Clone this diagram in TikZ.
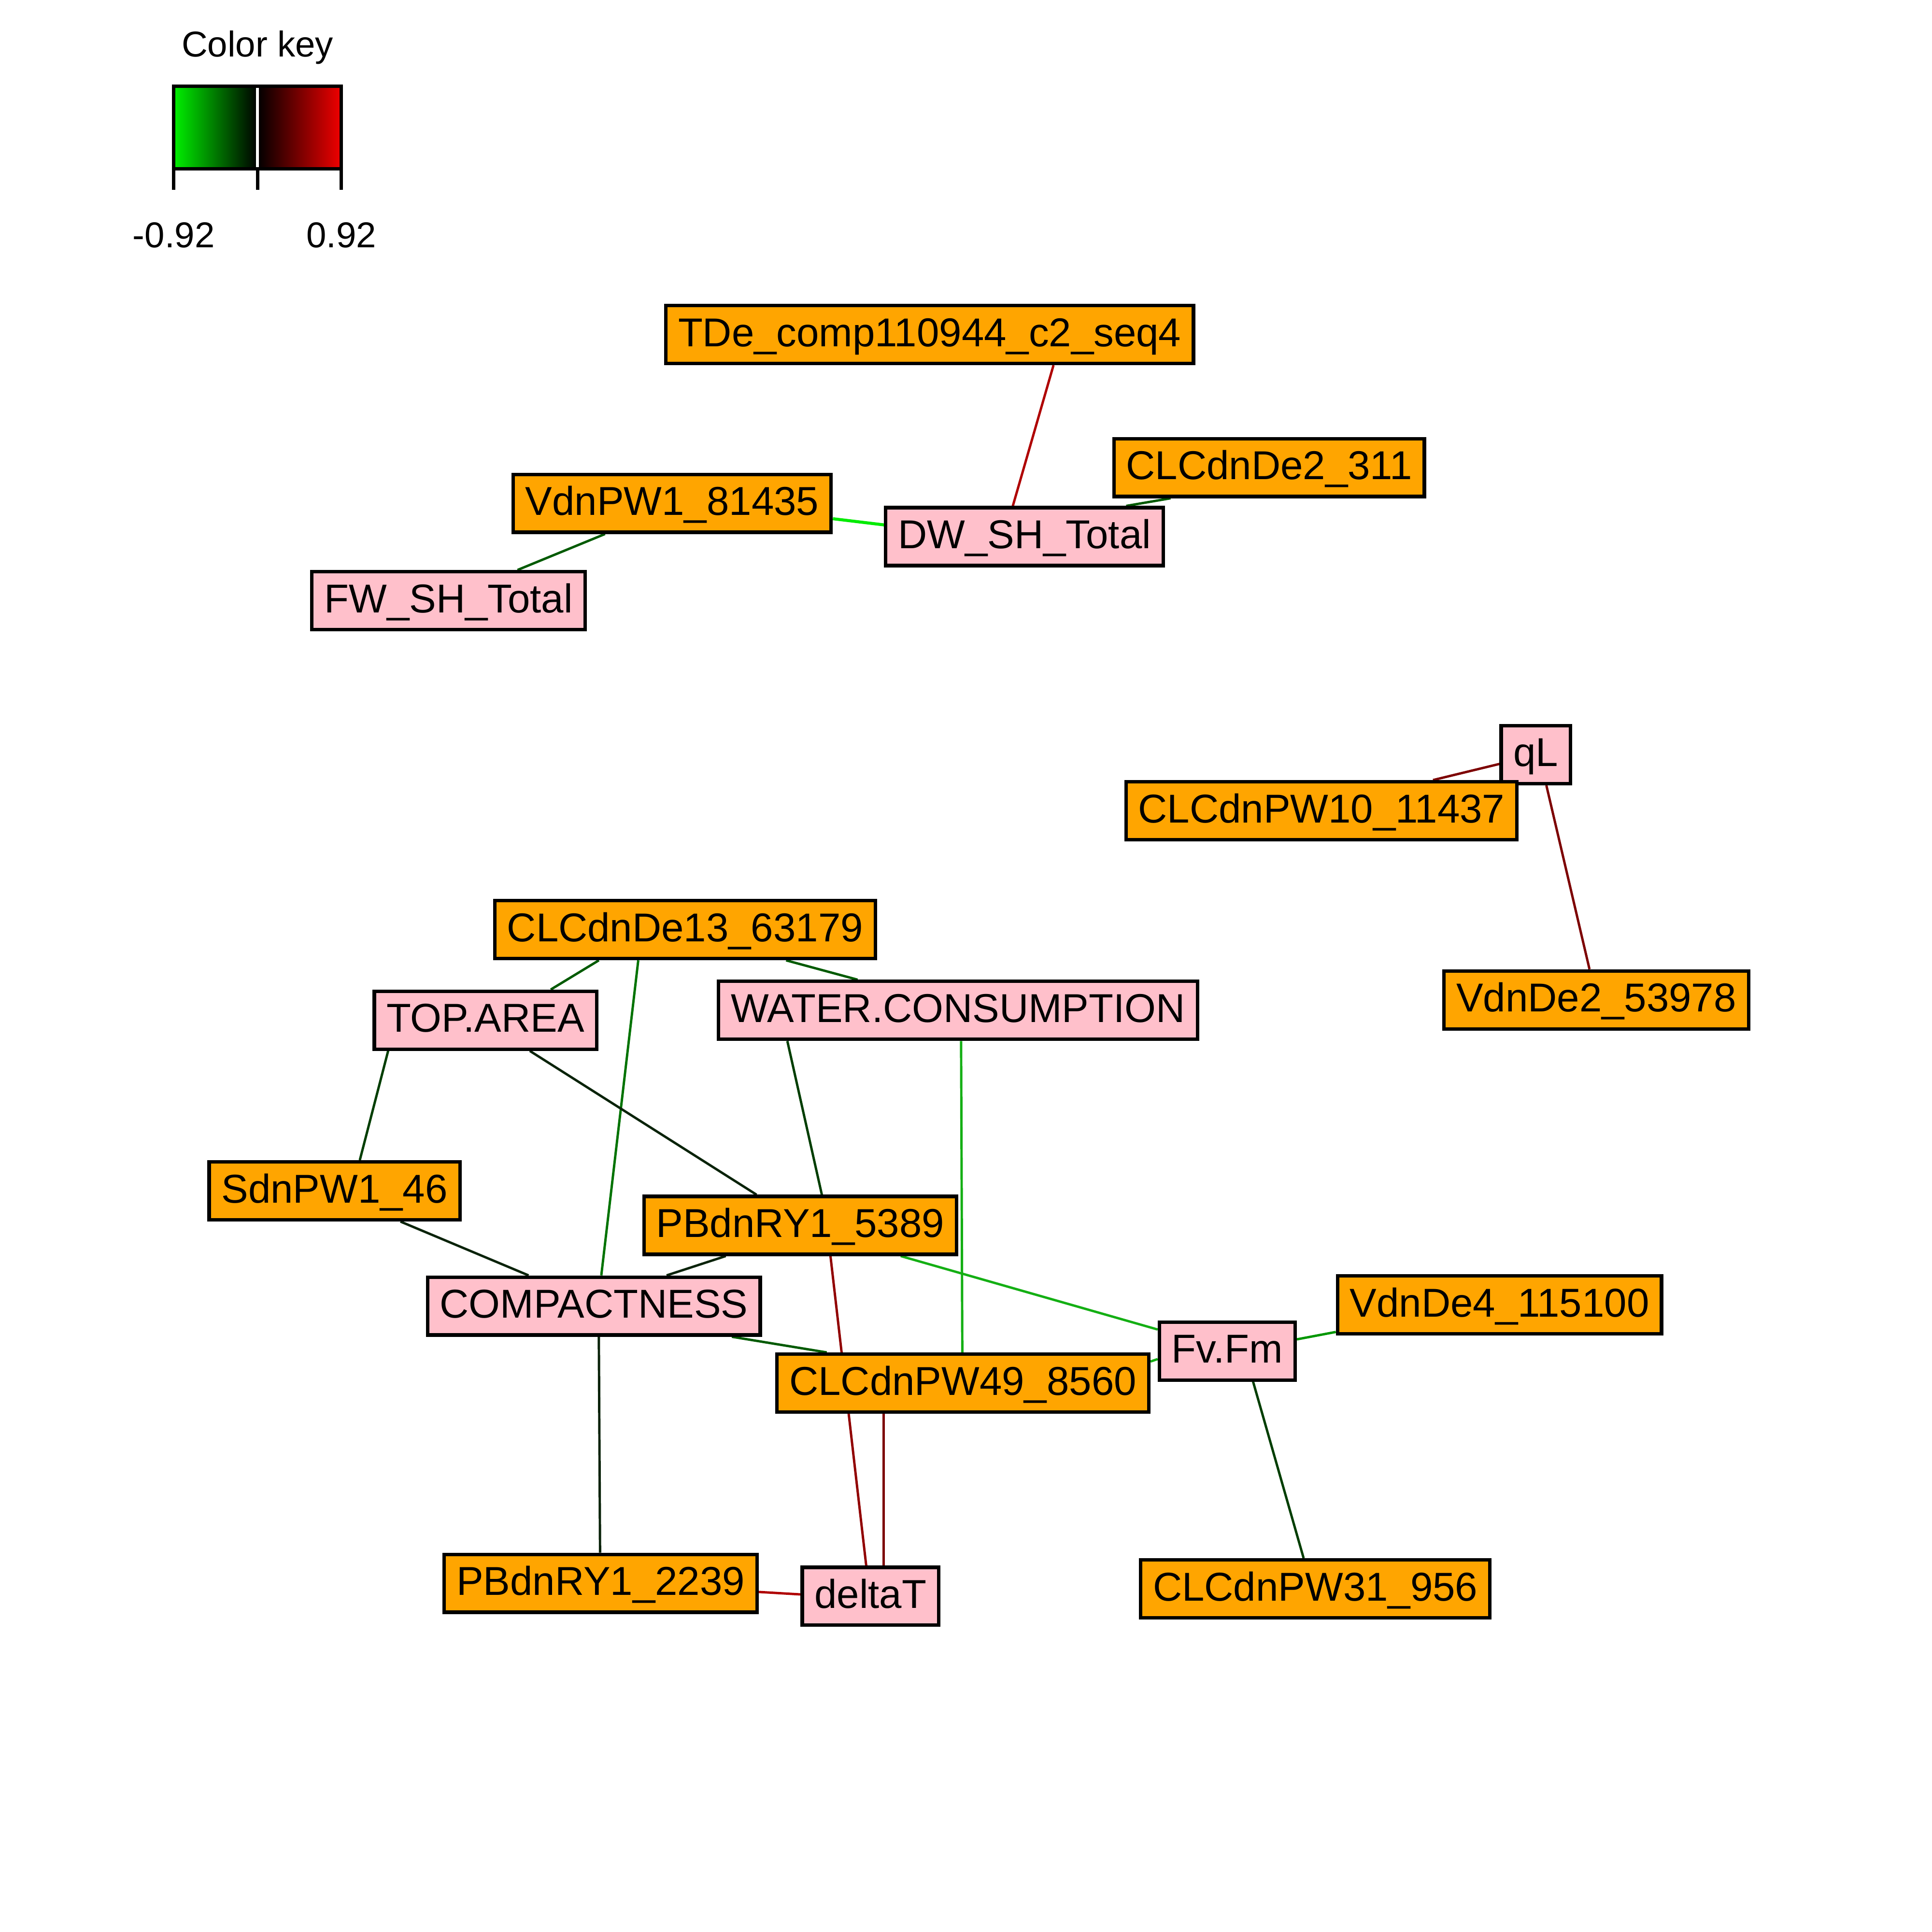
\documentclass[tikz,border=0pt]{standalone}
\usepackage{fontspec}
\setmainfont{Liberation Sans}
\usepackage{xcolor}
\usepackage{tikz}
\usetikzlibrary{backgrounds}
\definecolor{gnfill}{RGB}{255,165,0}
\definecolor{trfill}{RGB}{255,192,203}
\definecolor{keygreen}{RGB}{0,240,0}
\definecolor{keyred}{RGB}{240,0,0}
\definecolor{cneg1}{RGB}{0,235,0}
\definecolor{cneg2}{RGB}{20,175,20}
\definecolor{cneg3}{RGB}{0,150,0}
\definecolor{cneg4}{RGB}{0,115,0}
\definecolor{cneg5}{RGB}{0,90,0}
\definecolor{cneg6}{RGB}{0,62,0}
\definecolor{cneg7}{RGB}{10,35,10}
\definecolor{cpos1}{RGB}{175,0,0}
\definecolor{cpos2}{RGB}{145,0,0}
\definecolor{cpos3}{RGB}{125,0,0}
\tikzset{
  gn/.style    ={draw=black, line width=0.8pt, fill=gnfill, font=\fontsize{9.3}{11}\selectfont,
                 inner xsep=0.1cm, inner ysep=0pt, minimum height=0.47cm,
                 text height=0.30cm, text depth=0.108cm},
  tr/.style    ={gn, fill=trfill},
  lk/.style    ={line width=0.55pt},
  keyln/.style ={draw=black, line width=0.75pt},
  keylab/.style={font=\fontsize{8.3}{10}\selectfont, inner sep=0pt, anchor=base},
}

\begin{document}
\begin{tikzpicture}
  \useasboundingbox (0,0) rectangle (15.68,-15.68);
  % colour key
  \shade[left color=keygreen, right color=black] (1.41,-0.70) rectangle (2.09,-1.37);
  \shade[left color=black, right color=keyred] (2.09,-0.70) rectangle (2.77,-1.37);
  \draw[white, line width=0.7pt] (2.09,-0.70) -- (2.09,-1.37);
  \draw[keyln] (1.41,-0.70) rectangle (2.77,-1.37);
  \draw[keyln] (1.41,-1.37) -- (1.41,-1.54);
  \draw[keyln] (2.09,-1.37) -- (2.09,-1.54);
  \draw[keyln] (2.77,-1.37) -- (2.77,-1.54);
  \node[keylab] (keytitle) at (2.09,-0.46) {Color key};
  \node[keylab] (keylo) at (1.41,-2.01) {-0.92};
  \node[keylab] (keyhi) at (2.77,-2.01) {0.92};
  % upper cluster
  \node[gn] (tde)  at (7.545,-2.715) {TDe\_comp110944\_c2\_seq4};
  \node[gn] (cde2) at (10.30,-3.795) {CLCdnDe2\_311};
  \node[gn] (vpw1) at (5.455,-4.085) {VdnPW1\_81435};
  \node[tr] (dw)   at (8.315,-4.355) {DW\_SH\_Total};
  \node[tr] (fw)   at (3.64,-4.875) {FW\_SH\_Total};
  % qL cluster
  \node[tr] (ql)    at (12.465,-6.125) {qL};
  \node[gn] (cpw10) at (10.725,-6.58) {CLCdnPW10\_11437};
  \node[gn] (vde2)  at (12.955,-8.115) {VdnDe2\_53978};
  % lower cluster
  \node[gn] (cde13)  at (5.56,-7.545) {CLCdnDe13\_63179};
  \node[tr] (top)    at (3.94,-8.28) {TOP.AREA};
  \node[tr] (water)  at (7.775,-8.20) {WATER.CONSUMPTION};
  \node[gn] (sdn)    at (2.715,-9.665) {SdnPW1\_46};
  \node[gn] (pb5389) at (6.495,-9.945) {PBdnRY1\_5389};
  \node[tr] (comp)   at (4.82,-10.60) {COMPACTNESS};
  \node[gn] (vde4)   at (12.17,-10.59) {VdnDe4\_115100};
  \node[tr] (fvfm)   at (9.96,-10.965) {Fv.Fm};
  \node[gn] (cpw49)  at (7.815,-11.225) {CLCdnPW49\_8560};
  \node[gn] (pb2239) at (4.875,-12.85) {PBdnRY1\_2239};
  \node[tr] (dt)     at (7.065,-12.955) {deltaT};
  \node[gn] (cpw31)  at (10.675,-12.895) {CLCdnPW31\_956};
  % correlations
  \begin{scope}[on background layer]
  \draw[lk,draw=cpos1] ([xshift=1.005cm]tde.south) -- ([xshift=-0.095cm]dw.north);
  \draw[lk,draw=cneg5] ([xshift=-0.80cm]cde2.south) -- ([xshift=0.825cm]dw.north);
  \draw[lk,draw=cneg1,line width=0.7pt] ([yshift=-0.125cm]vpw1.east) -- ([yshift=0.095cm]dw.west);
  \draw[lk,draw=cneg5] ([xshift=-0.545cm]vpw1.south) -- ([xshift=0.56cm]fw.north);
  \draw[lk,draw=cpos3] ([yshift=-0.075cm]ql.west) -- ([xshift=0.905cm]cpw10.north);
  \draw[lk,draw=cpos3] ([xshift=0.085cm]ql.south) -- ([xshift=-0.055cm]vde2.north);
  \draw[lk,draw=cneg5] ([xshift=-0.70cm]cde13.south) -- ([xshift=0.53cm]top.north);
  \draw[lk,draw=cneg5] ([xshift=0.82cm]cde13.south) -- ([xshift=-0.815cm]water.north);
  \draw[lk,draw=cneg4] ([xshift=-0.38cm]cde13.south) -- ([xshift=0.06cm]comp.north);
  \draw[lk,draw=cneg6] ([xshift=-0.79cm]top.south) -- ([xshift=0.205cm]sdn.north);
  \draw[lk,draw=cneg7] ([xshift=0.36cm]top.south) -- ([xshift=-0.355cm]pb5389.north);
  \draw[lk,draw=cneg6] ([xshift=-1.385cm]water.south) -- ([xshift=0.175cm]pb5389.north);
  \draw[lk,draw=cneg2] ([xshift=0.025cm]water.south) -- ([xshift=-0.005cm]cpw49.north);
  \draw[lk,draw=cneg7] ([xshift=0.535cm]sdn.south) -- ([xshift=-0.53cm]comp.north);
  \draw[lk,draw=cneg7] ([xshift=-0.605cm]pb5389.south) -- ([xshift=0.59cm]comp.north);
  \draw[lk,draw=cneg2] ([xshift=0.815cm]pb5389.south) -- ([yshift=0.175cm]fvfm.west);
  \draw[lk,draw=cpos2] ([xshift=0.245cm]pb5389.south) -- ([xshift=-0.035cm]dt.north);
  \draw[lk,draw=cneg5] ([xshift=1.12cm]comp.south) -- ([xshift=-1.105cm]cpw49.north);
  \draw[lk,draw=cneg7] ([xshift=0.04cm]comp.south) -- ([xshift=-0.005cm]pb2239.north);
  \draw[lk,draw=cneg2] ([yshift=0.175cm]cpw49.east) -- ([yshift=-0.065cm]fvfm.west);
  \draw[lk,draw=cpos3] ([xshift=-0.645cm]cpw49.south) -- ([xshift=0.105cm]dt.north);
  \draw[lk,draw=cneg3] ([yshift=0.095cm]fvfm.east) -- ([yshift=-0.22cm]vde4.west);
  \draw[lk,draw=cneg6] ([xshift=0.21cm]fvfm.south) -- ([xshift=-0.095cm]cpw31.north);
  \draw[lk,draw=cpos1] ([yshift=-0.07cm]pb2239.east) -- ([yshift=0.015cm]dt.west);
  \end{scope}
\end{tikzpicture}
\end{document}
